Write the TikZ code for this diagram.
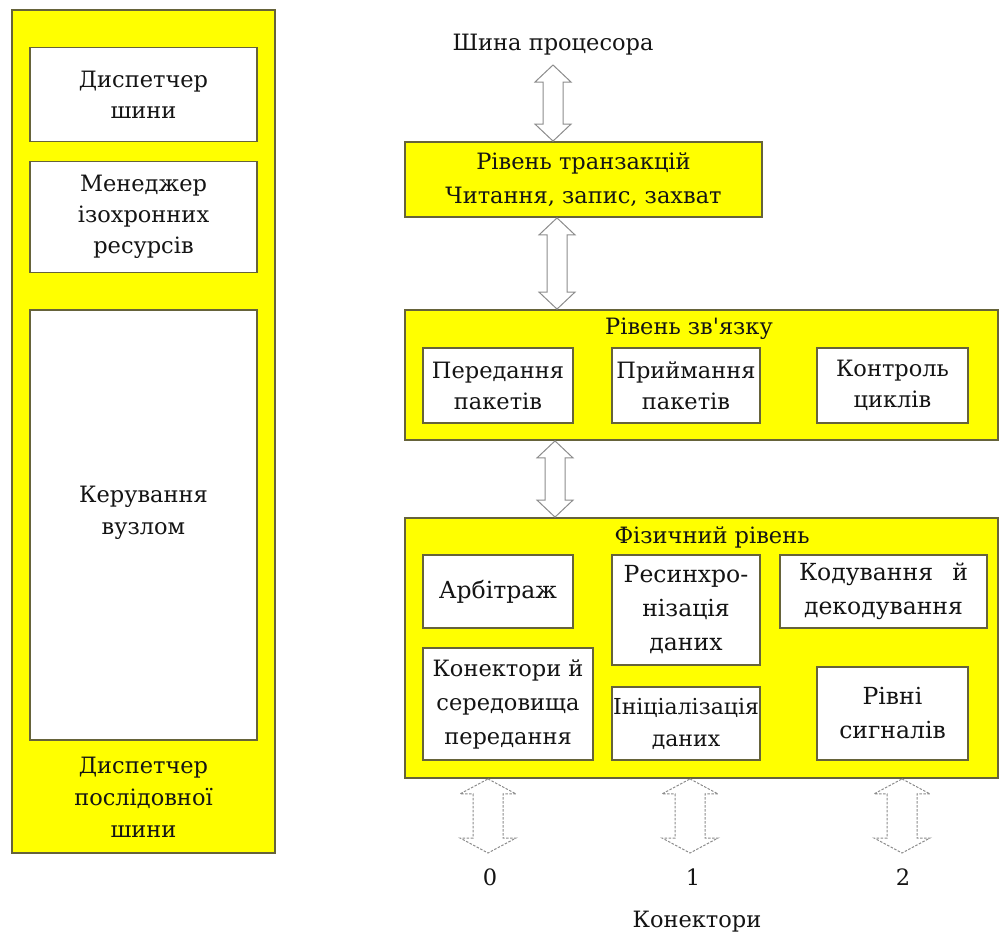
\documentclass[tikz,border=0pt]{standalone}
\usepackage{fontspec}
\setmainfont{DejaVu Serif}[Ligatures=TeXOff]
\usetikzlibrary{calc}

\definecolor{panelfill}{HTML}{FFFF00}
\definecolor{edgecol}{HTML}{66633A}
\definecolor{inkcol}{HTML}{141414}
\definecolor{arrowcol}{HTML}{8C8C8C}

% hollow vertical double arrow: style, top tip, bottom tip, head half-width, shaft half-width, head length
\newcommand{\dblarrow}[6]{%
  \draw[#1] (#2) -- ($(#2)+(#4,#6)$) -- ($(#2)+(#5,#6)$) -- ($(#3)+(#5,-#6)$)
    -- ($(#3)+(#4,-#6)$) -- (#3) -- ($(#3)+(-#4,-#6)$) -- ($(#3)+(-#5,-#6)$)
    -- ($(#2)+(-#5,#6)$) -- ($(#2)+(-#4,#6)$) -- cycle;}

\tikzset{
  panel/.style={draw=edgecol, line width=1.8pt, fill=panelfill, rectangle, inner sep=0pt},
  unit/.style={draw=edgecol, line width=1.8pt, fill=white, rectangle, inner sep=0pt,
    align=center, text=inkcol, font=\fontsize{22.5}{31}\selectfont},
  physunit/.style={unit, font=\fontsize{23.5}{34}\selectfont},
  caption/.style={align=center, text=inkcol, font=\fontsize{22.5}{32}\selectfont, inner sep=0pt},
  busarrow/.style={draw=arrowcol, line width=1pt, fill=white},
  portarrow/.style={draw=arrowcol, line width=1pt, fill=white, dash pattern=on 2.5pt off 1.5pt},
}

\begin{document}
\begin{tikzpicture}[x=1pt, y=-1pt]
\useasboundingbox (0,0) rectangle (1000,940);

% ---------- serial bus manager column ----------
\node[panel, minimum width=263, minimum height=843] (sbm) at (143.5,431.5) {};
\node[unit, minimum width=227, minimum height=94] (busmgr) at (143.5,94.5) {Диспетчер\\шини};
\node[unit, minimum width=227, minimum height=111] (isomgr) at (143.5,217) {Менеджер\\ізохронних\\ресурсів};
\node[unit, minimum width=227, minimum height=430] (nodectl) at (143.5,525) {};
\node[caption] (nodectltext) at (143.5,513) {Керування\\вузлом};
\node[caption] (sbmtitle) at (143.5,797) {Диспетчер\\послідовної\\шини};

% ---------- protocol stack ----------
\node[caption] (cpubus) at (553,45) {Шина процесора};

\node[panel, minimum width=357, minimum height=75, align=center, text=inkcol,
  font=\fontsize{22.5}{34}\selectfont] (trans) at (583.5,179.5) {Рівень транзакцій\\Читання, запис, захват};

\node[panel, minimum width=593, minimum height=130] (link) at (701.5,375) {};
\node[caption] (linktitle) at (689,329) {Рівень зв'язку};
\node[unit, minimum width=150, minimum height=75] (send) at (498,385.5) {Передання\\пакетів};
\node[unit, minimum width=148, minimum height=75] (recv) at (686,385.5) {Приймання\\пакетів};
\node[unit, minimum width=151, minimum height=75] (cycle) at (892.5,385.5) {Контроль\\циклів};

\node[panel, minimum width=593, minimum height=260] (phys) at (701.5,648) {};
\node[caption] (phystitle) at (712,537) {Фізичний рівень};
\node[physunit, minimum width=150, minimum height=73] (arb) at (498,591.5) {Арбітраж};
\node[physunit, minimum width=148, minimum height=110] (resync) at (686,610) {Ресинхро-\\нізація\\даних};
\node[physunit, minimum width=207, minimum height=73] (coding) at (883.5,591.5) {Кодування\hspace{0.5em} й\\декодування};
\node[physunit, minimum width=170, minimum height=112, font=\fontsize{22.5}{34}\selectfont] (media) at (508,704) {Конектори й\\середовища\\передання};
\node[physunit, minimum width=148, minimum height=73, font=\fontsize{22}{32}\selectfont] (init) at (686,723.5) {Ініціалізація\\даних};
\node[physunit, minimum width=151, minimum height=93] (levels) at (892.5,713.5) {Рівні\\сигналів};

% ---------- arrows between layers ----------
\coordinate (cpuport) at (553,65);
\coordinate (colB) at (557,0);
\coordinate (colC) at (555,0);
\dblarrow{busarrow}{cpuport}{trans.north -| cpuport}{18}{10}{17}
\dblarrow{busarrow}{trans.south -| colB}{link.north -| colB}{18}{10}{17}
\dblarrow{busarrow}{link.south -| colC}{phys.north -| colC}{18}{10}{17}

% ---------- connector ports ----------
\coordinate (port0) at (488,853);
\coordinate (port1) at (690,853);
\coordinate (port2) at (902,853);
\dblarrow{portarrow}{phys.south -| port0}{port0}{28}{15}{15}
\dblarrow{portarrow}{phys.south -| port1}{port1}{28}{15}{15}
\dblarrow{portarrow}{phys.south -| port2}{port2}{28}{15}{15}

\node[caption] (lab0) at (490,877) {0};
\node[caption] (lab1) at (693,877) {1};
\node[caption] (lab2) at (903,877) {2};
\node[caption] (connlabel) at (697,922) {Конектори};
\end{tikzpicture}
\end{document}
